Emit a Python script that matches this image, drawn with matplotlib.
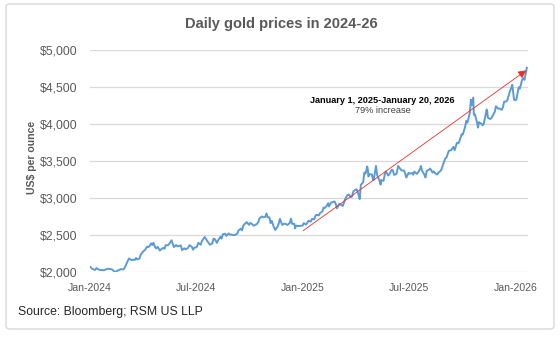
import pandas as pd
import matplotlib
matplotlib.use("Agg")
import matplotlib.pyplot as plt
import matplotlib.dates as mdates
from matplotlib.ticker import StrMethodFormatter
from matplotlib.patches import FancyBboxPatch

plt.rcParams['font.family'] = ['Liberation Sans', 'DejaVu Sans']

# daily gold price (US$ per ounce), sampled off the chart
dates_2024 = ["01-02", "01-04", "01-08", "01-10", "01-12", "01-16", "01-18", "01-22", "01-25", "01-29",
              "01-31", "02-02", "02-06", "02-09", "02-13", "02-15", "02-20", "02-23", "02-27", "02-29",
              "03-04", "03-06", "03-08", "03-12", "03-14", "03-18", "03-20", "03-22", "03-26", "03-28",
              "04-02", "04-04", "04-08", "04-10", "04-12", "04-15", "04-17", "04-19", "04-22", "04-24",
              "04-26", "04-30", "05-02", "05-06", "05-08", "05-10", "05-14", "05-16", "05-20", "05-22",
              "05-24", "05-28", "05-30", "06-03", "06-05", "06-07", "06-11", "06-13", "06-17", "06-20",
              "06-24", "06-26", "06-28", "07-02", "07-05", "07-09", "07-11", "07-16", "07-18", "07-22",
              "07-25", "07-29", "07-31", "08-02", "08-06", "08-08", "08-12", "08-14", "08-16", "08-20",
              "08-22", "08-26", "08-28", "08-30", "09-04", "09-06", "09-10", "09-12", "09-16", "09-18",
              "09-20", "09-24", "09-26", "09-30", "10-02", "10-04", "10-08", "10-10", "10-14", "10-16",
              "10-18", "10-22", "10-24", "10-28", "10-30", "11-01", "11-04", "11-06", "11-08", "11-12",
              "11-14", "11-18", "11-20", "11-22", "11-26", "11-29", "12-03", "12-05", "12-09", "12-11",
              "12-13", "12-17", "12-18", "12-20", "12-24", "12-27", "12-31"]
prices_2024 = [2063, 2043, 2028, 2025, 2049, 2029, 2023, 2022, 2020, 2034,
               2039, 2039, 2035, 2024, 1992, 2004, 2024, 2035, 2030, 2044,
               2114, 2148, 2179, 2158, 2162, 2160, 2186, 2165, 2178, 2230,
               2280, 2290, 2339, 2333, 2344, 2383, 2361, 2392, 2327, 2316,
               2337, 2286, 2303, 2323, 2309, 2360, 2358, 2376, 2425, 2379,
               2334, 2361, 2343, 2350, 2355, 2293, 2316, 2303, 2319, 2360,
               2334, 2298, 2326, 2330, 2391, 2364, 2415, 2469, 2445, 2396,
               2365, 2384, 2447, 2443, 2390, 2427, 2472, 2448, 2507, 2514,
               2484, 2518, 2504, 2503, 2495, 2497, 2516, 2558, 2582, 2559,
               2622, 2657, 2670, 2634, 2659, 2653, 2622, 2631, 2648, 2674,
               2721, 2748, 2736, 2742, 2788, 2736, 2736, 2659, 2685, 2598,
               2565, 2611, 2651, 2715, 2633, 2650, 2643, 2632, 2660, 2718,
               2648, 2646, 2586, 2622, 2618, 2621, 2624]

dates_2025 = ["01-02", "01-06", "01-08", "01-10", "01-14", "01-16", "01-20", "01-22", "01-24", "01-28",
              "01-30", "02-03", "02-05", "02-07", "02-11", "02-13", "02-14", "02-18", "02-20", "02-24",
              "02-26", "02-28", "03-04", "03-06", "03-10", "03-12", "03-14", "03-18", "03-20", "03-24",
              "03-26", "03-28", "04-01", "04-03", "04-07", "04-08", "04-10", "04-14", "04-16", "04-18",
              "04-21", "04-22", "04-23", "04-25", "04-29", "05-01", "05-02", "05-06", "05-08", "05-12",
              "05-14", "05-15", "05-19", "05-21", "05-23", "05-27", "05-29", "06-02", "06-04", "06-06",
              "06-10", "06-12", "06-13", "06-17", "06-19", "06-23", "06-25", "06-27", "07-01", "07-03",
              "07-07", "07-09", "07-11", "07-15", "07-17", "07-21", "07-22", "07-24", "07-28", "07-30",
              "08-01", "08-05", "08-07", "08-11", "08-13", "08-15", "08-19", "08-21", "08-25", "08-27",
              "08-29", "09-02", "09-04", "09-08", "09-10", "09-12", "09-16", "09-18", "09-22", "09-24",
              "09-26", "09-30", "10-02", "10-06", "10-08", "10-10", "10-14", "10-16", "10-17", "10-20",
              "10-21", "10-23", "10-27", "10-28", "10-30", "11-03", "11-05", "11-07", "11-10", "11-12",
              "11-13", "11-14", "11-18", "11-20", "11-24", "11-26", "11-28", "12-02", "12-04", "12-08",
              "12-10", "12-12", "12-16", "12-18", "12-22", "12-24", "12-26", "12-29", "12-31"]
prices_2025 = [2658, 2637, 2662, 2690, 2677, 2715, 2708, 2755, 2770, 2763,
               2794, 2815, 2867, 2861, 2898, 2928, 2883, 2935, 2940, 2950,
               2916, 2858, 2918, 2910, 2889, 2934, 2984, 3035, 3045, 3010,
               3019, 3085, 3112, 3114, 3020, 2982, 3175, 3211, 3342, 3327,
               3424, 3381, 3288, 3319, 3317, 3239, 3241, 3431, 3306, 3235,
               3178, 3240, 3230, 3314, 3357, 3301, 3318, 3380, 3373, 3310,
               3322, 3387, 3432, 3388, 3370, 3368, 3333, 3274, 3338, 3326,
               3336, 3313, 3355, 3324, 3339, 3397, 3431, 3368, 3314, 3275,
               3363, 3380, 3396, 3342, 3357, 3336, 3315, 3339, 3365, 3395,
               3447, 3533, 3545, 3635, 3641, 3643, 3690, 3643, 3746, 3736,
               3760, 3858, 3856, 3960, 4040, 4018, 4143, 4326, 4252, 4356,
               4125, 4126, 4002, 3950, 4024, 4000, 3980, 4000, 4115, 4195,
               4170, 4085, 4066, 4078, 4135, 4164, 4239, 4205, 4208, 4190,
               4227, 4300, 4304, 4333, 4444, 4480, 4530, 4330, 4319]

dates_2026 = ["01-02", "01-06", "01-08", "01-12", "01-14", "01-16", "01-20"]
prices_2026 = [4330, 4495, 4478, 4600, 4620, 4596, 4760]

tick_dates = ["2024-01-01", "2024-07-01", "2025-01-01", "2025-07-01", "2026-01-01"]
y_ticks = [2000, 2500, 3000, 3500, 4000, 4500, 5000]

# trend arrow, Jan 1 2025 -> Jan 20 2026
arrow_start = ("2025-01-01", 2555)
arrow_end = ("2026-01-19", 4725)

dates = pd.to_datetime(["2024-" + d for d in dates_2024] +
                       ["2025-" + d for d in dates_2025] +
                       ["2026-" + d for d in dates_2026])
prices = prices_2024 + prices_2025 + prices_2026

GREY = '#595959'

fig = plt.figure(figsize=(5.6, 3.37), dpi=100)
ax = fig.add_axes([90/560, 1 - 271.7/337, 438/560, 221.7/337])

fig.patches.append(FancyBboxPatch((6/560, 1 - 329/337), 548/560, 325/337,
                                  boxstyle="round,pad=0,rounding_size=0.008",
                                  transform=fig.transFigure, facecolor='white',
                                  edgecolor='#d9d9d9', linewidth=1.0, zorder=-10))

ax.plot(dates, prices, color='#5b9bd5', linewidth=1.4, zorder=3)

ax.annotate('', xy=(pd.Timestamp(arrow_end[0]), arrow_end[1]),
            xytext=(pd.Timestamp(arrow_start[0]), arrow_start[1]),
            arrowprops=dict(arrowstyle='-|>', color='#e8302a', lw=0.6,
                            mutation_scale=12, shrinkA=0, shrinkB=0), zorder=4)

ax.text(pd.Timestamp("2025-05-17"), 4320, "January 1, 2025-January 20, 2026",
        ha='center', va='center', fontsize=6.6, fontweight='bold', color='black')
ax.text(pd.Timestamp("2025-05-17"), 4180, "79% increase",
        ha='center', va='center', fontsize=6.6, color='#404040')

ax.set_xlim(pd.Timestamp("2024-01-01"), pd.Timestamp("2026-01-22"))
ax.set_ylim(2000, 5000)
ax.set_yticks(y_ticks)
ax.yaxis.set_major_formatter(StrMethodFormatter('${x:,.0f}'))
ax.set_xticks(pd.to_datetime(tick_dates))
ax.xaxis.set_major_formatter(mdates.DateFormatter('%b-%Y'))

ax.grid(axis='y', color='#d9d9d9', linewidth=0.9)
ax.set_axisbelow(True)
for s in ax.spines.values():
    s.set_visible(False)
ax.tick_params(axis='both', length=0)
ax.tick_params(axis='y', labelsize=8.8, labelcolor=GREY, pad=9)
ax.tick_params(axis='x', labelsize=7.6, labelcolor=GREY, pad=8)

fig.text(281/560, 1 - 24/337, "Daily gold prices in 2024-26", ha='center', va='center',
         fontsize=10.5, fontweight='bold', color=GREY)
fig.text(32/560, 1 - 157/337, "US$ per ounce", rotation=90, ha='center', va='center',
         fontsize=7.6, fontweight='bold', color=GREY)
fig.text(18/560, 1 - 312/337, "Source: Bloomberg; RSM US LLP", ha='left', va='center',
         fontsize=8.8, color='#262626')

fig.savefig("out.png", dpi=100)
